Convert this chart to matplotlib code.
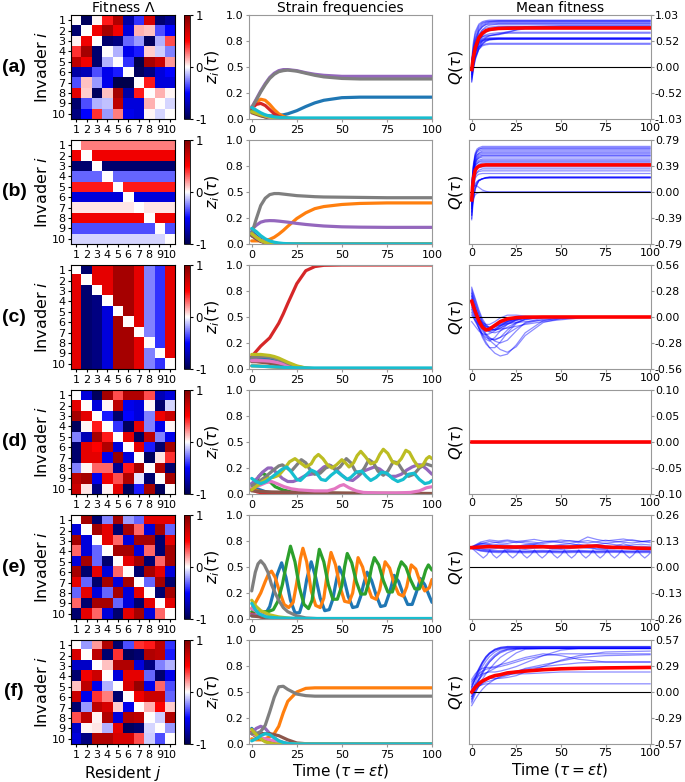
import numpy as np
import matplotlib.pyplot as plt
from matplotlib.ticker import FormatStrFormatter

plt.rcParams['font.family'] = 'DejaVu Sans'
plt.rcParams['axes.unicode_minus'] = False

# ---------------- data ----------------
row_labels = ['(a)', '(b)', '(c)', '(d)', '(e)', '(f)']
strain_ticks = [1, 2, 3, 4, 5, 6, 7, 8, 9, 10]
strain_colors = ['tab:blue', 'tab:orange', 'tab:green', 'tab:red', 'tab:purple',
                 'tab:brown', 'tab:pink', 'tab:gray', 'tab:olive', 'tab:cyan']

# fitness matrices (rows: invader i, cols: resident j)
lam_a = [
    [0.0, -0.95, 0.02, 0.45, 0.8, -0.75, -0.4, 0.65, -0.9, -0.8],
    [-0.9, 0.0, 0.55, 0.85, 0.55, -0.6, 0.15, 0.12, -0.35, -0.5],
    [0.03, 0.55, 0.0, -0.9, -0.85, -0.3, -0.2, -0.95, -0.15, 0.35],
    [0.4, 0.85, -0.9, 0.0, -0.15, -0.55, -0.45, 0.1, -0.1, -0.25],
    [0.75, 0.55, -0.9, -0.15, 0.0, -0.4, -1.0, 0.85, 0.7, 0.2],
    [-0.75, -0.7, -0.35, -0.55, -0.45, 0.0, -0.95, -0.85, -0.6, -0.5],
    [-0.35, 0.12, -0.2, -0.55, -1.0, -1.0, 0.0, 0.45, -0.6, -0.6],
    [0.6, 0.1, -0.95, 0.12, 0.85, -0.75, 0.45, 0.0, 0.15, 0.02],
    [-0.9, -0.35, -0.15, -0.12, 0.75, -0.6, -0.6, 0.15, 0.0, -0.08],
    [-0.85, -0.5, 0.4, -0.2, 0.25, -0.55, -0.6, 0.02, -0.08, 0.0],
]
lam_b = [
    [0.0, 0.25, 0.25, 0.25, 0.25, 0.25, 0.25, 0.25, 0.25, 0.25],
    [0.55, 0.0, 0.55, 0.55, 0.55, 0.55, 0.55, 0.55, 0.55, 0.55],
    [-0.9, -0.9, 0.0, -0.9, -0.9, -0.9, -0.9, -0.9, -0.9, -0.9],
    [-0.3, -0.3, -0.3, 0.0, -0.3, -0.3, -0.3, -0.3, -0.3, -0.3],
    [0.45, 0.45, 0.45, 0.45, 0.0, 0.45, 0.45, 0.45, 0.45, 0.45],
    [-0.6, -0.6, -0.6, -0.6, -0.6, 0.0, -0.6, -0.6, -0.6, -0.6],
    [0.05, 0.05, 0.05, 0.05, 0.05, 0.05, 0.0, 0.05, 0.05, 0.05],
    [0.55, 0.55, 0.55, 0.55, 0.55, 0.55, 0.55, 0.0, 0.55, 0.55],
    [-0.35, -0.35, -0.35, -0.35, -0.35, -0.35, -0.35, -0.35, 0.0, -0.35],
    [-0.08, -0.08, -0.08, -0.08, -0.08, -0.08, -0.08, -0.08, -0.08, 0.0],
]
lam_c = [
    [0.0, -0.9, 0.6, 0.6, 0.85, 0.85, 0.6, -0.25, -0.4, 0.6],
    [0.6, 0.0, 0.6, 0.6, 0.85, 0.85, 0.6, -0.25, -0.4, 0.6],
    [0.6, -0.9, 0.0, 0.6, 0.85, 0.85, 0.6, -0.25, -0.4, 0.6],
    [0.6, -0.9, -0.85, 0.0, 0.85, 0.85, 0.6, -0.25, -0.4, 0.6],
    [0.6, -0.9, -0.85, -0.6, 0.0, 0.85, 0.6, -0.25, -0.4, 0.6],
    [0.6, -0.9, -0.85, -0.6, 0.85, 0.0, 0.6, -0.25, -0.4, 0.6],
    [0.6, -0.9, -0.85, -0.6, 0.85, 0.85, 0.0, -0.25, -0.4, 0.6],
    [0.6, -0.9, -0.85, -0.6, 0.85, 0.85, 0.6, 0.0, -0.4, 0.6],
    [0.6, -0.9, -0.85, -0.6, 0.85, 0.85, 0.6, -0.25, 0.0, 0.6],
    [0.6, -0.9, -0.85, -0.6, 0.85, 0.85, 0.6, -0.25, -0.4, 0.0],
]
lam_d = [
    [0.0, -0.6, -0.95, 0.85, 0.35, 0.8, 0.8, 0.35, -0.7, -0.6],
    [0.6, 0.0, -0.6, 0.02, 0.75, -0.55, -0.6, 0.02, -0.9, -0.08],
    [0.85, 0.6, 0.0, -0.45, -0.9, -0.5, -0.6, -0.25, 0.55, 0.7],
    [-0.95, 0.02, 0.45, 0.0, -0.4, -0.95, 0.6, -0.25, -0.55, 0.02],
    [-0.25, -0.7, 0.85, 0.45, 0.0, 0.6, -0.95, 0.75, -0.25, -0.55],
    [-0.9, 0.6, 0.5, 0.8, -0.6, 0.0, 0.6, -0.45, -0.9, 0.85],
    [-0.9, 0.6, 0.6, -0.55, 0.9, -0.6, 0.0, -0.95, 0.05, 0.4],
    [-0.25, 0.02, 0.3, 0.3, -0.8, 0.45, 0.85, 0.0, 0.8, -0.9],
    [0.75, 0.85, -0.55, 0.55, 0.35, 0.8, -0.05, -0.9, 0.0, 0.85],
    [0.7, 0.05, -0.85, 0.03, 0.6, -0.95, -0.45, 0.85, -0.95, 0.0],
]
lam_e = [
    [0.0, 0.85, -0.9, -0.25, 0.85, -0.2, -0.3, 0.6, 0.6, 0.6],
    [-0.6, 0.0, 0.85, 0.6, -0.9, 0.85, 0.3, -0.6, 0.85, -0.3],
    [0.85, -0.6, 0.0, 0.6, 0.3, -0.6, 0.85, 0.85, -0.9, 0.6],
    [0.3, -0.6, -0.3, 0.0, 0.85, 0.85, -0.6, 0.3, -0.9, 0.85],
    [-0.6, 0.85, -0.3, -0.9, 0.0, 0.6, 0.85, -0.9, 0.3, 0.85],
    [0.85, -0.9, 0.6, -0.6, 0.3, 0.0, -0.9, 0.85, 0.6, -0.6],
    [0.6, -0.3, -0.9, 0.85, -0.6, 0.85, 0.0, -0.3, 0.85, -0.9],
    [-0.3, 0.6, -0.6, -0.3, 0.85, -0.6, 0.6, 0.0, -0.9, 0.85],
    [0.3, -0.9, 0.85, 0.85, -0.3, -0.6, -0.9, 0.6, 0.0, 0.6],
    [-0.9, 0.6, 0.3, -0.6, -0.9, 0.6, 0.85, -0.6, 0.3, 0.0],
]
lam_f = [
    [0.0, -0.2, 0.2, 0.8, -0.9, -0.35, 0.4, 0.45, 0.75, -0.4],
    [0.65, 0.0, 0.75, -0.9, 0.4, -0.95, -0.9, 0.8, 0.75, -0.45],
    [-0.65, -0.65, 0.0, 0.12, 0.8, 0.8, -0.6, -0.85, -0.25, -0.15],
    [-0.9, 0.55, 0.7, 0.0, -0.6, 0.6, 0.6, -0.3, -0.9, -0.55],
    [0.12, 0.75, -0.55, -0.15, 0.0, 0.65, 0.9, -0.55, 0.3, -0.35],
    [0.7, -0.55, 0.4, 0.25, -0.9, 0.0, 0.55, 0.7, 0.7, -0.3],
    [-0.9, -0.2, 0.75, 0.65, 0.1, -0.55, 0.0, 0.15, 0.5, 0.1],
    [0.35, 0.75, 0.03, 0.8, -0.6, 0.8, 0.75, 0.0, -0.1, 0.8],
    [-0.65, 0.02, 0.05, -0.15, 0.6, -0.95, -0.9, -0.08, 0.0, -0.2],
    [-0.6, -0.85, 0.8, 0.8, 0.65, 0.65, 0.35, -0.1, -0.35, 0.0],
]

# strain frequencies z_i(tau), read on a common time grid (rows a, b, c, f)
z_grid = [0, 2.5, 5, 7.5, 10, 12.5, 15, 17.5, 20, 25, 30, 35, 40, 50, 60, 75, 100]
z_a = [
    [0.10, 0.07, 0.045, 0.035, 0.03, 0.03, 0.035, 0.04, 0.05, 0.08, 0.12, 0.155, 0.18, 0.205, 0.21, 0.21, 0.21],
    [0.10, 0.16, 0.19, 0.18, 0.14, 0.09, 0.05, 0.025, 0.01, 0.003, 0, 0, 0, 0, 0, 0, 0],
    [0.08, 0.06, 0.035, 0.02, 0.01, 0.005, 0.002, 0, 0, 0, 0, 0, 0, 0, 0, 0, 0],
    [0.10, 0.14, 0.15, 0.13, 0.09, 0.05, 0.025, 0.01, 0.005, 0, 0, 0, 0, 0, 0, 0, 0],
    [0.11, 0.19, 0.27, 0.34, 0.40, 0.44, 0.465, 0.475, 0.475, 0.465, 0.445, 0.43, 0.42, 0.41, 0.41, 0.41, 0.41],
    [0.06, 0.045, 0.03, 0.02, 0.01, 0.005, 0.002, 0, 0, 0, 0, 0, 0, 0, 0, 0, 0],
    [0.12, 0.08, 0.05, 0.03, 0.015, 0.007, 0.003, 0, 0, 0, 0, 0, 0, 0, 0, 0, 0],
    [0.11, 0.18, 0.26, 0.33, 0.39, 0.43, 0.455, 0.465, 0.47, 0.46, 0.44, 0.42, 0.405, 0.39, 0.385, 0.385, 0.385],
    [0.07, 0.055, 0.04, 0.03, 0.02, 0.01, 0.005, 0.002, 0, 0, 0, 0, 0, 0, 0, 0, 0],
    [0.11, 0.085, 0.06, 0.04, 0.028, 0.02, 0.016, 0.013, 0.011, 0.01, 0.01, 0.01, 0.01, 0.01, 0.01, 0.01, 0.01],
]
z_b = [
    [0.12, 0.08, 0.045, 0.025, 0.012, 0.006, 0.003, 0, 0, 0, 0, 0, 0, 0, 0, 0, 0],
    [0.03, 0.03, 0.03, 0.035, 0.045, 0.065, 0.095, 0.13, 0.17, 0.245, 0.30, 0.34, 0.36, 0.38, 0.39, 0.395, 0.395],
    [0.08, 0.055, 0.03, 0.015, 0.007, 0.003, 0, 0, 0, 0, 0, 0, 0, 0, 0, 0, 0],
    [0.10, 0.065, 0.035, 0.015, 0.006, 0.002, 0, 0, 0, 0, 0, 0, 0, 0, 0, 0, 0],
    [0.14, 0.18, 0.21, 0.222, 0.225, 0.224, 0.22, 0.215, 0.21, 0.198, 0.188, 0.18, 0.173, 0.165, 0.162, 0.16, 0.16],
    [0.08, 0.05, 0.025, 0.01, 0.005, 0, 0, 0, 0, 0, 0, 0, 0, 0, 0, 0, 0],
    [0.10, 0.065, 0.035, 0.017, 0.007, 0.003, 0, 0, 0, 0, 0, 0, 0, 0, 0, 0, 0],
    [0.10, 0.24, 0.37, 0.44, 0.475, 0.485, 0.485, 0.48, 0.475, 0.465, 0.46, 0.455, 0.452, 0.45, 0.448, 0.445, 0.445],
    [0.10, 0.065, 0.035, 0.015, 0.006, 0.002, 0, 0, 0, 0, 0, 0, 0, 0, 0, 0, 0],
    [0.15, 0.12, 0.08, 0.05, 0.03, 0.017, 0.01, 0.005, 0.003, 0.001, 0, 0, 0, 0, 0, 0, 0],
]
z_c = [
    [0.10, 0.10, 0.10, 0.095, 0.09, 0.08, 0.07, 0.055, 0.04, 0.015, 0.005, 0.001, 0, 0, 0, 0, 0],
    [0.03, 0.03, 0.028, 0.025, 0.022, 0.018, 0.015, 0.01, 0.006, 0.002, 0, 0, 0, 0, 0, 0, 0],
    [0.11, 0.095, 0.08, 0.07, 0.06, 0.05, 0.04, 0.03, 0.02, 0.008, 0.002, 0, 0, 0, 0, 0, 0],
    [0.12, 0.17, 0.22, 0.26, 0.30, 0.37, 0.44, 0.53, 0.63, 0.82, 0.945, 0.985, 0.997, 1.0, 1.0, 1.0, 1.0],
    [0.09, 0.09, 0.085, 0.08, 0.075, 0.065, 0.055, 0.045, 0.03, 0.012, 0.004, 0.001, 0, 0, 0, 0, 0],
    [0.07, 0.07, 0.065, 0.06, 0.055, 0.048, 0.04, 0.03, 0.02, 0.008, 0.002, 0, 0, 0, 0, 0, 0],
    [0.08, 0.08, 0.08, 0.078, 0.075, 0.068, 0.06, 0.048, 0.035, 0.015, 0.005, 0.001, 0, 0, 0, 0, 0],
    [0.11, 0.12, 0.12, 0.12, 0.115, 0.105, 0.09, 0.075, 0.055, 0.025, 0.008, 0.002, 0, 0, 0, 0, 0],
    [0.14, 0.14, 0.14, 0.135, 0.13, 0.12, 0.105, 0.085, 0.065, 0.03, 0.01, 0.003, 0, 0, 0, 0, 0],
    [0.03, 0.028, 0.026, 0.024, 0.022, 0.02, 0.018, 0.016, 0.014, 0.012, 0.011, 0.01, 0.01, 0.01, 0.01, 0.01, 0.01],
]
z_f = [
    [0.15, 0.10, 0.05, 0.03, 0.01, 0.005, 0, 0, 0, 0, 0, 0, 0, 0, 0, 0, 0],
    [0.05, 0.04, 0.04, 0.05, 0.07, 0.10, 0.17, 0.30, 0.41, 0.50, 0.535, 0.54, 0.54, 0.54, 0.54, 0.54, 0.54],
    [0.10, 0.07, 0.05, 0.03, 0.015, 0.005, 0, 0, 0, 0, 0, 0, 0, 0, 0, 0, 0],
    [0.12, 0.08, 0.05, 0.03, 0.015, 0.005, 0, 0, 0, 0, 0, 0, 0, 0, 0, 0, 0],
    [0.10, 0.15, 0.17, 0.15, 0.10, 0.06, 0.03, 0.015, 0.005, 0, 0, 0, 0, 0, 0, 0, 0],
    [0.10, 0.10, 0.10, 0.10, 0.10, 0.09, 0.08, 0.06, 0.04, 0.01, 0.003, 0, 0, 0, 0, 0, 0],
    [0.10, 0.08, 0.06, 0.05, 0.04, 0.03, 0.02, 0.01, 0.005, 0, 0, 0, 0, 0, 0, 0, 0],
    [0.10, 0.10, 0.12, 0.18, 0.31, 0.45, 0.55, 0.555, 0.525, 0.48, 0.465, 0.46, 0.46, 0.46, 0.46, 0.46, 0.46],
    [0.14, 0.09, 0.05, 0.02, 0.01, 0, 0, 0, 0, 0, 0, 0, 0, 0, 0, 0, 0],
    [0.03, 0.05, 0.08, 0.10, 0.09, 0.06, 0.03, 0.015, 0.005, 0, 0, 0, 0, 0, 0, 0, 0],
]

# oscillating rows: each strain read at its own times
z_d_t = [
    [0, 3, 8, 15, 100],
    [0, 5, 10, 20, 100],
    [0, 2, 4, 6, 8, 10, 13, 17, 22, 30, 45, 100],
    [0, 3, 6, 12, 100],
    [0, 3, 6, 9, 11, 14, 17, 20, 23, 26, 30, 33, 36, 40, 43, 46, 50, 53, 56, 59, 62, 65, 68, 71, 74, 77, 80, 83, 86, 89, 92, 94, 97, 100],
    [0, 10, 30, 50, 100],
    [0, 4, 8, 11, 14, 18, 22, 26, 35, 42, 46, 49, 51, 54, 58, 62, 70, 80, 88, 93, 97, 100],
    [0, 4, 8, 12, 15, 17, 19.5, 22, 25, 27.5, 30, 32.5, 35, 38, 41, 44, 46.5, 49, 52.5, 55, 57.5, 60, 62.5, 65, 67.5, 70, 73, 75.5, 78.5, 81, 84, 87, 90, 93, 96.5, 100],
    [0, 3, 6, 9, 12, 15, 18, 21, 24, 27, 30, 33, 35, 37, 39.5, 42, 44.5, 47, 50, 52, 54, 56.5, 58.5, 60.5, 63, 66, 69, 71, 73, 75.5, 78, 80.5, 83, 85.5, 87.5, 90, 92.5, 95, 97, 98.5, 100],
    [0, 2.5, 5, 8, 11, 14, 17, 19.5, 22, 25, 27, 30, 33, 35.5, 38.5, 41, 44, 47, 50, 53, 55, 58, 61, 63.5, 66, 69, 72, 75, 78, 81, 84, 87, 90, 93, 96, 98.5, 100],
]
z_d = [
    [0.10, 0.05, 0.02, 0.005, 0],
    [0.05, 0.02, 0.01, 0, 0],
    [0.04, 0.10, 0.17, 0.20, 0.18, 0.12, 0.07, 0.04, 0.02, 0.01, 0.005, 0],
    [0.04, 0.02, 0.01, 0, 0],
    [0.10, 0.15, 0.21, 0.25, 0.25, 0.20, 0.15, 0.12, 0.12, 0.14, 0.18, 0.19, 0.20, 0.26, 0.28, 0.25, 0.18, 0.14, 0.13, 0.17, 0.22, 0.24, 0.26, 0.24, 0.20, 0.17, 0.17, 0.19, 0.23, 0.26, 0.28, 0.28, 0.24, 0.19],
    [0.03, 0.02, 0.015, 0.01, 0.005],
    [0.06, 0.08, 0.11, 0.12, 0.10, 0.07, 0.05, 0.04, 0.03, 0.03, 0.05, 0.08, 0.09, 0.06, 0.03, 0.015, 0.01, 0.01, 0.015, 0.03, 0.06, 0.07],
    [0.08, 0.12, 0.17, 0.23, 0.27, 0.28, 0.25, 0.22, 0.28, 0.33, 0.30, 0.23, 0.19, 0.20, 0.25, 0.27, 0.23, 0.26, 0.34, 0.30, 0.22, 0.19, 0.25, 0.33, 0.30, 0.22, 0.18, 0.22, 0.31, 0.30, 0.22, 0.17, 0.19, 0.25, 0.29, 0.27],
    [0.04, 0.08, 0.12, 0.15, 0.16, 0.18, 0.24, 0.31, 0.34, 0.30, 0.26, 0.29, 0.35, 0.38, 0.34, 0.28, 0.25, 0.28, 0.33, 0.30, 0.26, 0.30, 0.37, 0.41, 0.36, 0.29, 0.31, 0.38, 0.43, 0.39, 0.31, 0.29, 0.34, 0.42, 0.40, 0.32, 0.26, 0.28, 0.34, 0.36, 0.34],
    [0.15, 0.12, 0.10, 0.12, 0.16, 0.20, 0.24, 0.26, 0.21, 0.14, 0.13, 0.18, 0.23, 0.21, 0.14, 0.13, 0.18, 0.22, 0.18, 0.14, 0.16, 0.21, 0.22, 0.17, 0.13, 0.16, 0.21, 0.20, 0.15, 0.12, 0.14, 0.19, 0.20, 0.14, 0.10, 0.11, 0.13],
]
z_e_t = [
    [0, 5, 8, 10, 12, 14, 16.6, 19, 21.5, 24, 26.5, 28.5, 30.5, 33, 35.5, 38, 40.5, 43, 45, 46.5, 48.5, 51, 53.5, 56, 58.5, 60.5, 62, 64, 66.5, 69, 71.5, 74, 76, 77.5, 79, 81.5, 84, 86.5, 89, 91, 92.5, 93.5, 96, 98.5, 100],
    [0, 2.5, 5, 7.5, 9.5, 11, 13, 15.5, 18, 20.5, 23, 25, 27, 28.4, 30.5, 33, 35.5, 38, 40, 42, 44, 46.5, 49, 51.5, 54, 56, 57.5, 59, 61.5, 64, 66.5, 69, 71, 72.5, 74, 76.5, 79, 81.5, 84, 86, 87.5, 88.5, 91, 93.5, 96, 98.5, 100],
    [0, 3, 6, 9, 12, 14.5, 17, 19.5, 21.5, 24, 26.5, 29, 31.5, 33.5, 35.5, 37.5, 40, 42.5, 45, 47.5, 50, 51.5, 53, 55.5, 58, 60.5, 63, 65, 66.5, 68, 70.5, 73, 75.5, 78, 80, 81.5, 83, 85.5, 88, 90.5, 93, 95, 96.5, 98, 100],
    [0, 5, 10, 100],
    [0, 5, 10, 20, 100],
    [0, 5, 10, 20, 100],
    [0, 3, 6, 10, 20, 100],
    [0, 2, 3.5, 5, 7, 9, 11, 13, 15, 17.5, 20, 25, 30, 40, 100],
    [0, 2.5, 5, 10, 15, 25, 100],
    [0, 2, 4, 8, 15, 30, 100],
]
z_e = [
    [0.03, 0.03, 0.06, 0.12, 0.25, 0.42, 0.54, 0.40, 0.18, 0.06, 0.06, 0.17, 0.38, 0.55, 0.40, 0.20, 0.08, 0.09, 0.19, 0.33, 0.50, 0.40, 0.22, 0.11, 0.12, 0.22, 0.33, 0.45, 0.37, 0.23, 0.12, 0.13, 0.23, 0.32, 0.42, 0.36, 0.24, 0.14, 0.14, 0.24, 0.32, 0.39, 0.33, 0.22, 0.16],
    [0.10, 0.17, 0.25, 0.36, 0.44, 0.46, 0.40, 0.26, 0.14, 0.11, 0.16, 0.35, 0.58, 0.68, 0.55, 0.27, 0.13, 0.11, 0.20, 0.45, 0.64, 0.52, 0.31, 0.17, 0.16, 0.25, 0.42, 0.59, 0.50, 0.33, 0.21, 0.19, 0.28, 0.42, 0.55, 0.49, 0.34, 0.24, 0.22, 0.31, 0.44, 0.52, 0.48, 0.35, 0.27, 0.30, 0.38],
    [0.07, 0.07, 0.07, 0.07, 0.09, 0.17, 0.33, 0.55, 0.70, 0.55, 0.30, 0.14, 0.10, 0.18, 0.45, 0.67, 0.55, 0.33, 0.19, 0.19, 0.32, 0.50, 0.63, 0.54, 0.36, 0.24, 0.24, 0.36, 0.50, 0.59, 0.52, 0.37, 0.26, 0.26, 0.37, 0.48, 0.55, 0.50, 0.38, 0.29, 0.29, 0.38, 0.47, 0.52, 0.47],
    [0.05, 0.02, 0.0, 0.0],
    [0.04, 0.03, 0.02, 0.0, 0.0],
    [0.03, 0.02, 0.01, 0.0, 0.0],
    [0.10, 0.07, 0.04, 0.02, 0.0, 0.0],
    [0.27, 0.45, 0.53, 0.56, 0.52, 0.45, 0.33, 0.25, 0.18, 0.11, 0.07, 0.03, 0.01, 0.0, 0.0],
    [0.18, 0.12, 0.08, 0.04, 0.02, 0.0, 0.0],
    [0.15, 0.09, 0.05, 0.02, 0.01, 0.005, 0.005],
]

# mean fitness Q(tau): individual runs (thin blue) and their average (red)
q_a_t = [0, 1, 2, 4, 6, 8, 10, 15, 20, 30, 50, 100]
q_a = [
    [0.10, 0.45, 0.65, 0.82, 0.88, 0.90, 0.91, 0.92, 0.92, 0.92, 0.92, 0.92],
    [0.02, 0.38, 0.58, 0.78, 0.86, 0.89, 0.90, 0.91, 0.91, 0.91, 0.91, 0.91],
    [-0.05, 0.30, 0.52, 0.74, 0.83, 0.87, 0.89, 0.90, 0.90, 0.90, 0.90, 0.90],
    [-0.12, 0.22, 0.45, 0.70, 0.80, 0.85, 0.87, 0.88, 0.88, 0.88, 0.88, 0.88],
    [0.05, 0.35, 0.53, 0.72, 0.80, 0.84, 0.85, 0.86, 0.86, 0.86, 0.86, 0.86],
    [-0.20, 0.15, 0.38, 0.62, 0.74, 0.80, 0.83, 0.85, 0.85, 0.85, 0.85, 0.85],
    [0.08, 0.32, 0.48, 0.65, 0.73, 0.77, 0.79, 0.81, 0.81, 0.81, 0.81, 0.81],
    [-0.15, 0.12, 0.32, 0.55, 0.66, 0.73, 0.76, 0.79, 0.80, 0.80, 0.80, 0.80],
    [-0.25, 0.05, 0.25, 0.50, 0.62, 0.69, 0.72, 0.75, 0.76, 0.76, 0.76, 0.76],
    [0.00, 0.25, 0.40, 0.55, 0.60, 0.62, 0.63, 0.65, 0.70, 0.76, 0.77, 0.77],
    [-0.08, 0.18, 0.35, 0.52, 0.60, 0.64, 0.66, 0.68, 0.69, 0.69, 0.69, 0.69],
    [-0.30, -0.02, 0.18, 0.40, 0.52, 0.58, 0.62, 0.66, 0.67, 0.67, 0.67, 0.67],
    [0.12, 0.30, 0.40, 0.50, 0.55, 0.57, 0.58, 0.58, 0.58, 0.58, 0.58, 0.58],
    [-0.02, 0.18, 0.32, 0.46, 0.52, 0.55, 0.56, 0.57, 0.57, 0.57, 0.57, 0.57],
    [-0.18, 0.05, 0.22, 0.40, 0.48, 0.53, 0.55, 0.56, 0.56, 0.56, 0.56, 0.56],
    [-0.28, -0.05, 0.14, 0.35, 0.45, 0.51, 0.54, 0.56, 0.56, 0.56, 0.56, 0.56],
    [0.04, 0.22, 0.35, 0.48, 0.53, 0.555, 0.565, 0.57, 0.57, 0.57, 0.57, 0.57],
    [-0.10, 0.12, 0.28, 0.44, 0.51, 0.54, 0.55, 0.555, 0.555, 0.555, 0.555, 0.555],
    [-0.22, 0.00, 0.17, 0.36, 0.46, 0.52, 0.54, 0.55, 0.55, 0.55, 0.55, 0.55],
    [-0.15, 0.05, 0.20, 0.35, 0.42, 0.44, 0.45, 0.45, 0.45, 0.45, 0.45, 0.45],
    [0.06, 0.20, 0.30, 0.40, 0.44, 0.46, 0.47, 0.47, 0.47, 0.47, 0.47, 0.47],
    [-0.06, 0.20, 0.38, 0.58, 0.68, 0.73, 0.75, 0.77, 0.78, 0.78, 0.78, 0.78],
    [0.15, 0.50, 0.70, 0.85, 0.90, 0.92, 0.93, 0.93, 0.93, 0.93, 0.93, 0.93],
    [-0.04, 0.15, 0.30, 0.48, 0.56, 0.60, 0.62, 0.64, 0.68, 0.80, 0.82, 0.82],
]
q_a_mean = [-0.05, 0.20, 0.38, 0.58, 0.67, 0.72, 0.745, 0.765, 0.77, 0.775, 0.775, 0.775]

q_b_t = [0, 0.5, 1, 2, 3, 4, 6, 8, 10, 15, 30, 100]
q_b = [
    [0.05, 0.27, 0.43, 0.59, 0.65, 0.67, 0.69, 0.69, 0.69, 0.69, 0.69, 0.69],
    [-0.10, 0.17, 0.36, 0.55, 0.62, 0.65, 0.67, 0.67, 0.67, 0.67, 0.67, 0.67],
    [0.00, 0.22, 0.38, 0.54, 0.60, 0.62, 0.64, 0.64, 0.64, 0.64, 0.64, 0.64],
    [-0.25, 0.05, 0.27, 0.49, 0.56, 0.59, 0.62, 0.62, 0.62, 0.62, 0.62, 0.62],
    [0.08, 0.26, 0.39, 0.52, 0.56, 0.58, 0.60, 0.60, 0.60, 0.60, 0.60, 0.60],
    [-0.15, 0.11, 0.29, 0.47, 0.53, 0.56, 0.58, 0.58, 0.58, 0.58, 0.58, 0.58],
    [-0.35, -0.04, 0.19, 0.42, 0.49, 0.52, 0.55, 0.55, 0.55, 0.55, 0.55, 0.55],
    [0.02, 0.20, 0.33, 0.45, 0.49, 0.51, 0.53, 0.53, 0.53, 0.53, 0.53, 0.53],
    [-0.05, 0.14, 0.28, 0.42, 0.46, 0.48, 0.50, 0.50, 0.50, 0.50, 0.50, 0.50],
    [-0.20, 0.04, 0.21, 0.38, 0.43, 0.46, 0.48, 0.48, 0.48, 0.48, 0.48, 0.48],
    [0.10, 0.23, 0.32, 0.41, 0.43, 0.45, 0.46, 0.46, 0.46, 0.46, 0.46, 0.46],
    [-0.30, -0.04, 0.14, 0.33, 0.39, 0.42, 0.44, 0.44, 0.44, 0.44, 0.44, 0.44],
    [0.00, 0.13, 0.23, 0.32, 0.35, 0.37, 0.38, 0.38, 0.38, 0.38, 0.38, 0.38],
    [-0.40, -0.14, 0.05, 0.24, 0.30, 0.33, 0.35, 0.35, 0.35, 0.35, 0.35, 0.35],
    [-0.08, 0.06, 0.16, 0.26, 0.29, 0.31, 0.32, 0.32, 0.32, 0.32, 0.32, 0.32],
    [-0.22, -0.05, 0.08, 0.21, 0.25, 0.27, 0.28, 0.28, 0.28, 0.28, 0.28, 0.28],
    [-0.42, -0.26, -0.13, 0.04, 0.11, 0.17, 0.20, 0.22, 0.23, 0.23, 0.23, 0.23],
    [-0.30, -0.17, -0.07, 0.06, 0.13, 0.17, 0.20, 0.21, 0.22, 0.22, 0.22, 0.22],
    [-0.18, -0.08, 0.00, 0.10, 0.15, 0.18, 0.20, 0.215, 0.22, 0.22, 0.22, 0.22],
    [-0.05, 0.015, 0.07, 0.13, 0.16, 0.18, 0.20, 0.21, 0.21, 0.21, 0.21, 0.21],
    [-0.35, -0.21, -0.09, 0.05, 0.12, 0.17, 0.20, 0.215, 0.22, 0.22, 0.22, 0.22],
    [0.00, 0.05, 0.08, 0.10, 0.09, 0.07, 0.03, 0.01, 0.00, 0.00, 0.00, 0.00],
    [-0.25, -0.16, -0.10, -0.04, -0.02, -0.01, 0.00, 0.00, 0.00, 0.00, 0.00, 0.00],
    [0.03, 0.25, 0.40, 0.57, 0.62, 0.645, 0.66, 0.66, 0.66, 0.66, 0.66, 0.66],
    [-0.12, 0.12, 0.29, 0.46, 0.51, 0.54, 0.56, 0.56, 0.56, 0.56, 0.56, 0.56],
]
q_b_mean = [-0.12, 0.08, 0.21, 0.33, 0.37, 0.39, 0.405, 0.41, 0.41, 0.41, 0.41, 0.41]

q_c_t = [0, 2, 4, 6, 8, 10, 13, 16, 20, 25, 30, 40, 50, 60, 75, 100]
q_c = [
    [0.30, 0.18, 0.06, -0.04, -0.09, -0.11, -0.10, -0.07, -0.04, -0.015, -0.005, 0, 0, 0, 0, 0],
    [0.25, 0.11, -0.02, -0.10, -0.15, -0.16, -0.13, -0.09, -0.045, -0.015, -0.005, 0, 0, 0, 0, 0],
    [0.22, 0.06, -0.09, -0.19, -0.24, -0.26, -0.22, -0.15, -0.08, -0.03, -0.01, 0, 0, 0, 0, 0],
    [0.15, 0.00, -0.12, -0.22, -0.29, -0.33, -0.33, -0.27, -0.17, -0.07, -0.025, -0.003, 0, 0, 0, 0],
    [0.20, 0.05, -0.05, -0.12, -0.18, -0.22, -0.26, -0.28, -0.25, -0.15, -0.06, -0.01, 0, 0, 0, 0],
    [0.10, 0.00, -0.08, -0.15, -0.20, -0.25, -0.30, -0.35, -0.38, -0.32, -0.20, -0.06, -0.015, 0, 0, 0],
    [0.05, -0.05, -0.12, -0.18, -0.22, -0.24, -0.24, -0.22, -0.18, -0.12, -0.07, -0.025, -0.008, 0, 0, 0],
    [-0.05, -0.10, -0.15, -0.18, -0.19, -0.18, -0.15, -0.10, -0.05, -0.02, -0.005, 0, 0, 0, 0, 0],
    [0.28, 0.15, 0.03, -0.07, -0.13, -0.16, -0.17, -0.15, -0.11, -0.06, -0.03, -0.005, 0, 0, 0, 0],
    [0.18, 0.08, -0.01, -0.07, -0.11, -0.12, -0.11, -0.08, -0.05, -0.02, -0.005, 0, 0, 0, 0, 0],
    [0.12, 0.03, -0.04, -0.08, -0.10, -0.11, -0.10, -0.09, -0.07, -0.06, -0.05, -0.035, -0.02, -0.006, 0, 0],
    [0.08, -0.03, -0.12, -0.20, -0.27, -0.33, -0.39, -0.42, -0.40, -0.30, -0.17, -0.04, -0.005, 0, 0, 0],
    [0.26, 0.14, 0.03, -0.05, -0.10, -0.13, -0.14, -0.12, -0.08, -0.04, -0.015, 0, 0, 0, 0, 0],
    [0.02, -0.04, -0.08, -0.11, -0.13, -0.14, -0.14, -0.13, -0.12, -0.10, -0.08, -0.05, -0.03, -0.012, -0.002, 0],
    [0.32, 0.20, 0.08, -0.02, -0.08, -0.12, -0.14, -0.12, -0.07, -0.03, -0.01, 0, 0, 0, 0, 0],
    [0.16, 0.04, -0.06, -0.13, -0.19, -0.23, -0.25, -0.22, -0.14, -0.06, -0.02, 0, 0, 0, 0, 0],
    [0.23, 0.10, -0.01, -0.08, -0.12, -0.14, -0.13, -0.10, -0.06, -0.03, -0.01, 0, 0, 0, 0, 0],
    [0.14, 0.05, -0.02, -0.06, -0.08, -0.08, -0.05, -0.01, 0.02, 0.02, 0.01, 0, 0, 0, 0, 0],
]
q_c_mean = [0.17, 0.06, -0.04, -0.11, -0.14, -0.13, -0.09, -0.05, -0.02, -0.007, -0.002, 0, 0, 0, 0, 0]

q_d_t = [0, 100]
q_d = [[0.0, 0.0], [0.0, 0.0], [0.0, 0.0]]
q_d_mean = [0.0, 0.0]

q_e_t = [0, 5, 10, 15, 20, 25, 30, 35, 40, 45, 50, 55, 60, 65, 70, 75, 80, 85, 90, 95, 100]
q_e = [
    [0.100, 0.125, 0.135, 0.130, 0.135, 0.128, 0.132, 0.138, 0.130, 0.128, 0.135, 0.130, 0.128, 0.150, 0.138, 0.130, 0.135, 0.140, 0.132, 0.128, 0.130],
    [0.098, 0.115, 0.128, 0.122, 0.118, 0.126, 0.120, 0.115, 0.124, 0.130, 0.122, 0.118, 0.126, 0.132, 0.124, 0.118, 0.124, 0.130, 0.136, 0.128, 0.122],
    [0.102, 0.120, 0.118, 0.125, 0.130, 0.122, 0.128, 0.124, 0.118, 0.124, 0.126, 0.132, 0.124, 0.120, 0.126, 0.134, 0.128, 0.124, 0.120, 0.126, 0.132],
    [0.097, 0.105, 0.110, 0.104, 0.098, 0.104, 0.110, 0.106, 0.100, 0.104, 0.108, 0.102, 0.098, 0.104, 0.110, 0.106, 0.100, 0.096, 0.100, 0.104, 0.100],
    [0.095, 0.100, 0.096, 0.100, 0.106, 0.100, 0.096, 0.102, 0.108, 0.102, 0.096, 0.100, 0.106, 0.110, 0.104, 0.098, 0.096, 0.100, 0.096, 0.094, 0.098],
    [0.100, 0.112, 0.108, 0.114, 0.110, 0.104, 0.110, 0.116, 0.110, 0.106, 0.112, 0.116, 0.110, 0.106, 0.112, 0.118, 0.112, 0.106, 0.110, 0.114, 0.110],
    [0.096, 0.092, 0.088, 0.094, 0.098, 0.092, 0.088, 0.094, 0.098, 0.092, 0.088, 0.092, 0.098, 0.094, 0.090, 0.088, 0.092, 0.096, 0.092, 0.088, 0.090],
    [0.095, 0.082, 0.078, 0.076, 0.077, 0.076, 0.075, 0.076, 0.077, 0.076, 0.075, 0.076, 0.077, 0.076, 0.075, 0.076, 0.077, 0.076, 0.075, 0.076, 0.076],
    [0.098, 0.085, 0.080, 0.078, 0.079, 0.078, 0.077, 0.078, 0.079, 0.078, 0.077, 0.078, 0.079, 0.078, 0.077, 0.078, 0.079, 0.078, 0.077, 0.078, 0.078],
    [0.092, 0.080, 0.074, 0.072, 0.073, 0.072, 0.071, 0.072, 0.073, 0.072, 0.071, 0.072, 0.073, 0.072, 0.071, 0.072, 0.073, 0.072, 0.071, 0.072, 0.072],
    [0.100, 0.090, 0.084, 0.082, 0.083, 0.081, 0.080, 0.082, 0.083, 0.081, 0.080, 0.082, 0.083, 0.081, 0.080, 0.082, 0.083, 0.081, 0.080, 0.082, 0.082],
    [0.097, 0.118, 0.112, 0.098, 0.088, 0.092, 0.104, 0.112, 0.100, 0.090, 0.094, 0.106, 0.114, 0.102, 0.090, 0.092, 0.104, 0.116, 0.104, 0.092, 0.096],
]
q_e_mean = [0.097, 0.100, 0.102, 0.101, 0.100, 0.100, 0.100, 0.101, 0.101, 0.100, 0.100, 0.100, 0.101, 0.104, 0.105, 0.100, 0.098, 0.097, 0.095, 0.094, 0.093]
# one run with regular dips
q_e_dip_t = [0, 4.5, 6.5, 8.5, 10.2, 12, 14, 16, 18.5, 21, 23, 25, 27, 29, 31, 33, 35.2, 37.5, 39.5, 41.5, 43.8, 46, 48, 50, 52, 54, 56, 58, 60, 62, 64, 66, 68, 70, 72, 74, 76, 78, 80, 82, 84.2, 86.5, 88.5, 90.5, 92.8, 95, 97, 99, 100]
q_e_dip = [0.095, 0.06, 0.045, 0.06, 0.085, 0.06, 0.045, 0.06, 0.085, 0.06, 0.045, 0.06, 0.085, 0.06, 0.045, 0.06, 0.085, 0.06, 0.045, 0.06, 0.085, 0.06, 0.045, 0.06, 0.085, 0.06, 0.045, 0.06, 0.085, 0.06, 0.045, 0.06, 0.085, 0.06, 0.045, 0.06, 0.085, 0.06, 0.045, 0.06, 0.085, 0.06, 0.045, 0.06, 0.085, 0.06, 0.045, 0.06, 0.07]

q_f_t = [0, 2, 4, 6, 8, 10, 13, 16, 20, 25, 30, 40, 50, 60, 75, 100]
q_f = [
    [0.05, 0.15, 0.24, 0.32, 0.38, 0.42, 0.46, 0.48, 0.49, 0.49, 0.49, 0.49, 0.49, 0.49, 0.49, 0.49],
    [-0.05, 0.06, 0.15, 0.23, 0.30, 0.35, 0.41, 0.45, 0.47, 0.48, 0.48, 0.48, 0.48, 0.48, 0.48, 0.48],
    [0.10, 0.18, 0.26, 0.33, 0.39, 0.43, 0.47, 0.49, 0.50, 0.50, 0.50, 0.50, 0.50, 0.50, 0.50, 0.50],
    [-0.12, -0.02, 0.07, 0.14, 0.20, 0.25, 0.32, 0.38, 0.43, 0.47, 0.48, 0.48, 0.48, 0.48, 0.48, 0.48],
    [0.00, 0.08, 0.14, 0.18, 0.21, 0.23, 0.26, 0.30, 0.36, 0.43, 0.47, 0.48, 0.48, 0.48, 0.48, 0.48],
    [0.08, 0.14, 0.18, 0.20, 0.21, 0.22, 0.22, 0.23, 0.25, 0.28, 0.32, 0.40, 0.46, 0.48, 0.48, 0.48],
    [-0.08, 0.00, 0.06, 0.10, 0.13, 0.15, 0.17, 0.19, 0.21, 0.23, 0.25, 0.28, 0.30, 0.32, 0.33, 0.33],
    [0.12, 0.16, 0.20, 0.23, 0.25, 0.26, 0.27, 0.28, 0.30, 0.33, 0.36, 0.40, 0.42, 0.42, 0.42, 0.42],
    [-0.15, -0.08, -0.02, 0.03, 0.07, 0.10, 0.14, 0.17, 0.19, 0.20, 0.20, 0.21, 0.22, 0.22, 0.22, 0.22],
    [0.03, 0.08, 0.11, 0.13, 0.14, 0.15, 0.15, 0.15, 0.16, 0.18, 0.22, 0.28, 0.35, 0.40, 0.44, 0.45],
    [0.02, 0.05, 0.07, 0.08, 0.09, 0.09, 0.09, 0.09, 0.09, 0.09, 0.09, 0.09, 0.09, 0.09, 0.09, 0.09],
    [-0.02, 0.10, 0.20, 0.28, 0.34, 0.39, 0.44, 0.47, 0.48, 0.48, 0.48, 0.48, 0.48, 0.48, 0.48, 0.48],
    [0.06, 0.16, 0.25, 0.33, 0.39, 0.43, 0.47, 0.49, 0.50, 0.50, 0.50, 0.50, 0.50, 0.50, 0.50, 0.50],
    [-0.10, 0.02, 0.12, 0.20, 0.27, 0.33, 0.39, 0.44, 0.47, 0.48, 0.48, 0.48, 0.48, 0.48, 0.48, 0.48],
    [0.14, 0.20, 0.24, 0.26, 0.27, 0.27, 0.28, 0.30, 0.32, 0.35, 0.38, 0.42, 0.40, 0.36, 0.33, 0.33],
    [-0.05, 0.02, 0.06, 0.09, 0.11, 0.12, 0.14, 0.16, 0.18, 0.22, 0.26, 0.30, 0.34, 0.38, 0.40, 0.41],
    [0.04, 0.14, 0.23, 0.31, 0.37, 0.42, 0.46, 0.48, 0.49, 0.49, 0.49, 0.49, 0.49, 0.49, 0.49, 0.49],
    [-0.07, 0.04, 0.13, 0.21, 0.28, 0.33, 0.39, 0.43, 0.46, 0.47, 0.475, 0.475, 0.475, 0.475, 0.475, 0.475],
]
q_f_mean = [0.00, 0.05, 0.09, 0.12, 0.14, 0.16, 0.18, 0.19, 0.21, 0.22, 0.23, 0.245, 0.255, 0.26, 0.265, 0.27]

q_limits = [1.032, 0.787, 0.56, 0.10, 0.26, 0.572]

# ---------------- figure ----------------
W, H = 685, 782
fig = plt.figure(figsize=(W / 100, H / 100), dpi=100)


def box(x0, y0, w, h):
    return [x0 / W, 1 - (y0 + h) / H, w / W, h / H]


lams = [lam_a, lam_b, lam_c, lam_d, lam_e, lam_f]
z_rows = [(z_grid, z_a), (z_grid, z_b), (z_grid, z_c), (z_d_t, z_d), (z_e_t, z_e), (z_grid, z_f)]
q_rows = [(q_a_t, q_a, q_a_mean), (q_b_t, q_b, q_b_mean), (q_c_t, q_c, q_c_mean),
          (q_d_t, q_d, q_d_mean), (q_e_t, q_e, q_e_mean), (q_f_t, q_f, q_f_mean)]
spine_col = '0.6'
tick_fs = 8
label_fs = 11

for r in range(6):
    top = 15 + 125 * r
    last = r == 5

    # heat map
    ax = fig.add_axes(box(71, top, 104, 104))
    im = ax.imshow(np.array(lams[r]), cmap='seismic', vmin=-1, vmax=1, aspect='auto')
    ax.set_xticks(range(10))
    ax.set_xticklabels(strain_ticks, fontsize=tick_fs)
    ax.set_yticks(range(10))
    ax.set_yticklabels(strain_ticks, fontsize=tick_fs)
    ax.tick_params(length=2.5, pad=1.5)
    ax.set_ylabel('Invader $i$', fontsize=label_fs + 0.5)
    ax.yaxis.set_label_coords(-0.2, 0.5)
    if r == 0:
        ax.set_title('Fitness $\\Lambda$', fontsize=10, pad=2)
    if last:
        ax.set_xlabel('Resident $j$', fontsize=label_fs, labelpad=3)
    cax = fig.add_axes(box(184, top, 6, 104))
    cb = fig.colorbar(im, cax=cax, ticks=[-1, 0, 1])
    cb.ax.set_yticklabels(['-1', '0', '1'], fontsize=8.5)
    cb.ax.tick_params(length=2.5, pad=1.5)
    cb.outline.set_linewidth(0.6)

    fig.text(14 / W, 1 - (top + 52) / H, row_labels[r], fontsize=14, fontweight='bold',
             ha='center', va='center', family='Liberation Sans')

    # strain frequencies
    ax = fig.add_axes(box(249, top, 183, 104))
    tg, zs = z_rows[r]
    for i in range(10):
        tt = tg[i] if isinstance(tg[0], list) else tg
        ax.plot(tt, zs[i], color=strain_colors[i], lw=2.3, solid_capstyle='round')
    ax.set_xlim(-1.5, 100)
    ax.set_ylim(0, 1)
    ax.set_yticks([0, 0.25, 0.5, 0.75, 1.0])
    ax.yaxis.set_major_formatter(FormatStrFormatter('%.1f'))
    ax.set_xticks([0, 25, 50, 75, 100])
    ax.tick_params(labelsize=tick_fs, length=2.5, pad=1.5, color=spine_col)
    ax.set_ylabel('$z_i(\\tau)$', fontsize=label_fs + 0.5)
    ax.yaxis.set_label_coords(-0.145, 0.5)
    for s in ax.spines.values():
        s.set_color(spine_col)
    if r == 0:
        ax.set_title('Strain frequencies', fontsize=10, pad=2)
    if last:
        ax.set_xlabel('Time ($\\tau = \\epsilon t$)', fontsize=label_fs, labelpad=2)

    # mean fitness
    ax = fig.add_axes(box(469, top, 182, 104))
    qt, qs, qm = q_rows[r]
    for line in qs:
        ax.plot(qt, line, color='blue', lw=0.9, alpha=0.45)
    if r == 4:
        ax.plot(q_e_dip_t, q_e_dip, color='blue', lw=0.9, alpha=0.45)
    ax.axhline(0, color='black', lw=0.8)
    ax.plot(qt, qm, color='red', lw=2.6)
    m = q_limits[r]
    ax.set_ylim(-m, m)
    ax.set_xlim(-1.5, 100.5)
    ax.set_yticks(np.linspace(-m, m, 5))
    ax.yaxis.set_major_formatter(FormatStrFormatter('%.2f'))
    ax.yaxis.tick_right()
    ax.set_xticks([0, 25, 50, 75, 100])
    ax.tick_params(labelsize=tick_fs, length=2, pad=0.8, color=spine_col)
    ax.tick_params(axis='y', labelsize=7.8)
    ax.set_ylabel('$Q(\\tau)$', fontsize=label_fs + 0.5)
    ax.yaxis.set_label_coords(-0.02, 0.5)
    for s in ax.spines.values():
        s.set_color(spine_col)
    if r == 0:
        ax.set_title('Mean fitness', fontsize=10, pad=2)
    if last:
        ax.set_xlabel('Time ($\\tau = \\epsilon t$)', fontsize=label_fs, labelpad=2)

fig.savefig('out.png', dpi=100)
